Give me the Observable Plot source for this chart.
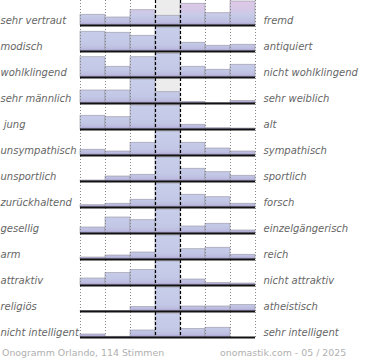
<!DOCTYPE html>
<html>
<head>
<meta charset="utf-8">
<script src="https://cdn.jsdelivr.net/npm/d3@7"></script>
<script src="https://cdn.jsdelivr.net/npm/@observablehq/plot@0.6"></script>
<style>
  body { margin: 0; background: #fff; }
  #wrap { position: relative; width: 370px; height: 360px; }
  #wrap svg text { white-space: pre; }
  .foot { position: absolute; top: 347px; font: 9.4px "DejaVu Sans", sans-serif; line-height: 12px; color: #b0b0b0; white-space: pre; }
</style>
</head>
<body>
<div id="wrap"></div>
<script>
// Left / right poles of each semantic differential row
const leftLabels = ["sehr vertraut", "modisch", "wohlklingend", "sehr männlich", " jung", "unsympathisch", "unsportlich", "zurückhaltend", "gesellig", "arm", "attraktiv", "religiös", "nicht intelligent"];
const rightLabels = ["fremd", "antiquiert", "nicht wohlklingend", "sehr weiblich", "alt", "sympathisch", "sportlich", "forsch", "einzelgängerisch", "reich", "nicht attraktiv", "atheistisch", "sehr intelligent"];

// Estimated relative bar heights (7 steps per row, row maximum = 24)
const vertraut    = [10.7, 8, 15.3, 9.7, 21.7, 12.3, 24];
const modisch     = [19.7, 18.7, 15.7, 24, 8.7, 5.7, 6.7];
const wohlklingend= [20.3, 10.7, 20.3, 23.7, 10.7, 7.7, 12.7];
const maennlich   = [13, 13, 24, 11.3, 1.5, 0.3, 2.5];
const jung        = [13.7, 12.3, 24, 24, 4.7, 1.3, 1];
const sympathisch = [5.7, 4, 12.7, 24, 12.7, 7, 4];
const sportlich   = [1, 5, 6.7, 24, 12.7, 9.3, 5.7];
const forsch      = [2.3, 3.7, 7.7, 24, 12.7, 10.3, 3.7];
const gesellig    = [6, 16, 13.3, 24, 7, 9.7, 3];
const reich       = [2, 4, 7, 24, 10.3, 11.7, 4.7];
const attraktiv   = [7, 12.4, 15.4, 24, 6, 2.4, 2];
const religioes   = [0.5, 0.5, 4.4, 24, 5, 5, 6.4];
const intelligent = [3, 0.7, 7, 24, 8.4, 9.7, 0];
const rowValues = [vertraut, modisch, wohlklingend, maennlich, jung, sympathisch, sportlich, forsch, gesellig, reich, attraktiv, religioes, intelligent];

const steps = [1, 2, 3, 4, 5, 6, 7];
const caption = "Onogramm Orlando, 114 Stimmen";
const source = "onomastik.com - 05 / 2025";

const bars = [];
rowValues.forEach((vals, r) => vals.forEach((v, i) => bars.push({row: r, step: steps[i], value: v})));
const rows = leftLabels.map((l, r) => ({row: r, left: l, right: rightLabels[r]}));

const BLUE = "#c6cce8", PINK = "#dcc8e6";

const chart = Plot.plot({
  width: 370,
  height: 340,
  marginLeft: 80,
  marginRight: 115,
  marginTop: 0,
  marginBottom: 2,
  style: {fontFamily: "DejaVu Sans, sans-serif", fontSize: "10px", background: "transparent"},
  x: {domain: [0, 7], axis: null},
  y: {domain: [0, 25], axis: null, insetBottom: 1},
  fy: {domain: d3.range(13), padding: 0, axis: null},
  marks: [
    Plot.rect([0], {x1: () => 3, x2: () => 4, fill: "#ececec"}),
    Plot.rectY(bars.filter(d => d.row !== 0), {fy: "row", x1: d => d.step - 1, x2: "step", y: "value", fill: BLUE, stroke: "#9a9aa8", strokeWidth: 0.8, strokeOpacity: 0.8}),
    Plot.rectY(bars.filter(d => d.row === 0), {fy: "row", x1: d => d.step - 1, x2: "step", y: "value", fill: PINK, stroke: "#9a9aa8", strokeWidth: 0.8, strokeOpacity: 0.8}),
    Plot.ruleX([0, 1, 2, 5, 6, 7], {stroke: "#888", strokeWidth: 1, strokeDasharray: "1,2"}),
    Plot.ruleX([3, 4], {stroke: "#000", strokeWidth: 1.2, strokeDasharray: "3,2"}),
    Plot.ruleY([0], {stroke: "#111", strokeWidth: 2}),
    Plot.text(rows, {fy: "row", text: "left", frameAnchor: "bottom-left", textAnchor: "start", lineAnchor: "middle", dx: -80, dy: -6, fill: "#666", fontStyle: "italic"}),
    Plot.text(rows, {fy: "row", text: "right", frameAnchor: "bottom-right", textAnchor: "start", lineAnchor: "middle", dx: 8, dy: -6, fill: "#666", fontStyle: "italic"})
  ]
});

// gradients for bar fills
const defs = d3.select(chart).insert("defs", ":first-child");
function grad(id, stops) {
  const g = defs.append("linearGradient").attr("id", id).attr("gradientUnits", "userSpaceOnUse")
    .attr("x1", 0).attr("x2", 0).attr("y1", 0).attr("y2", 26);
  stops.forEach(([o, c]) => g.append("stop").attr("offset", o).attr("stop-color", c));
}
grad("gb", [[0, "#c8cfea"], [0.7, "#c3c8e6"], [0.86, "#bdbde0"], [0.93, "#ada5d3"], [1, "#9f95c8"]]);
grad("gp", [[0, "#e0c8e8"], [0.35, "#d6c8e6"], [0.6, "#c6cbe8"], [0.86, "#bdbde0"], [0.93, "#ada5d3"], [1, "#9f95c8"]]);
chart.querySelectorAll(`[fill="${BLUE}"]`).forEach(e => e.setAttribute("fill", "url(#gb)"));
chart.querySelectorAll(`[fill="${PINK}"]`).forEach(e => e.setAttribute("fill", "url(#gp)"));

const wrap = document.getElementById("wrap");
wrap.appendChild(chart);
const f1 = document.createElement("div");
f1.className = "foot"; f1.style.left = "2px"; f1.textContent = caption;
const f2 = document.createElement("div");
f2.className = "foot"; f2.style.left = "220px"; f2.textContent = source;
wrap.appendChild(f1); wrap.appendChild(f2);
</script>
</body>
</html>
